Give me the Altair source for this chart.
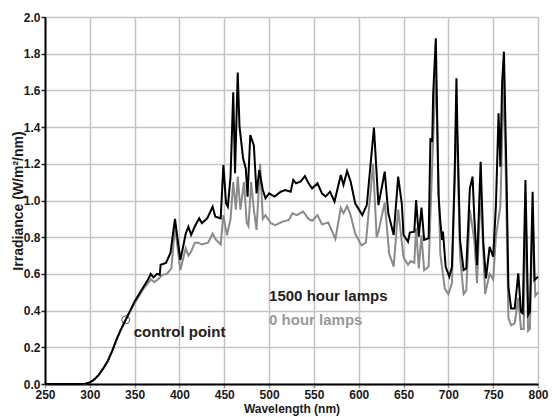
import altair as alt
import pandas as pd

# 1500 hour lamps (black)
wl_1500 = [250, 290, 295, 300, 305, 310, 315, 320, 325, 330, 335, 340, 345, 350, 355, 360, 365, 368, 371, 375, 378, 379, 385, 390, 395, 401, 404, 407, 410, 413, 417, 419, 422, 425, 431, 437, 440, 446, 449, 452, 454, 457, 460, 462, 465, 467, 471, 474, 476, 479, 483, 486, 489, 493, 496, 500, 506, 513, 518, 524, 527, 530, 535, 540, 544, 548, 554, 559, 563, 568, 573, 580, 583, 587, 591, 596, 604, 609, 617, 622, 629, 633, 639, 644, 648, 650, 655, 657, 662, 664, 667, 670, 673, 678, 680, 682, 683, 686, 689, 691, 693, 694, 697, 701, 704, 707, 709, 710, 713, 717, 720, 724, 727, 729, 732, 736, 739, 742, 746, 750, 753, 756, 758, 760, 762, 765, 767, 770, 774, 778, 781, 783, 786, 789, 791, 794, 796, 800]
irr_1500 = [0, 0, 0.002, 0.008, 0.025, 0.05, 0.085, 0.125, 0.18, 0.245, 0.3, 0.35, 0.4, 0.45, 0.49, 0.53, 0.57, 0.6, 0.58, 0.6, 0.595, 0.65, 0.66, 0.715, 0.9, 0.676, 0.745, 0.82, 0.857, 0.812, 0.857, 0.876, 0.903, 0.876, 0.903, 0.966, 0.912, 0.903, 1.193, 0.985, 0.966, 1.13, 1.59, 1.148, 1.697, 1.402, 1.23, 1.175, 1.021, 1.357, 1.3, 1.039, 1.166, 1.057, 1.012, 1.039, 1.021, 1.048, 1.057, 1.048, 1.112, 1.094, 1.103, 1.133, 1.094, 1.066, 1.094, 1.039, 1.021, 1.048, 0.994, 1.139, 1.085, 1.161, 1.103, 0.985, 0.921, 0.975, 1.397, 0.975, 1.157, 0.93, 0.812, 1.13, 0.985, 0.812, 0.776, 0.825, 0.83, 1.003, 0.803, 0.961, 0.785, 0.794, 1.339, 1.32, 1.575, 1.884, 1.03, 0.885, 0.785, 0.83, 0.639, 0.585, 0.639, 1.13, 1.666, 1.402, 0.785, 0.621, 0.63, 1.066, 1.13, 0.903, 0.648, 1.211, 0.767, 0.576, 0.748, 0.694, 0.966, 1.475, 1.184, 1.647, 1.811, 1.094, 0.53, 0.412, 0.412, 0.603, 0.394, 0.385, 1.112, 0.376, 0.394, 1.048, 0.567, 0.585]

# 0 hour lamps (gray)
wl_0 = [250, 290, 295, 300, 305, 310, 315, 320, 325, 330, 335, 340, 345, 350, 355, 360, 365, 368, 372, 376, 381, 386, 391, 395, 401, 404, 407, 410, 413, 417, 421, 425, 432, 437, 440, 446, 449, 453, 457, 460, 463, 465, 468, 472, 475, 477, 480, 483, 486, 490, 493, 496, 502, 507, 515, 522, 526, 531, 538, 544, 548, 554, 559, 566, 574, 580, 583, 587, 591, 596, 603, 608, 616, 620, 622, 629, 634, 639, 644, 650, 655, 658, 662, 664, 667, 670, 673, 678, 682, 686, 691, 696, 700, 704, 709, 713, 717, 720, 724, 729, 732, 736, 741, 746, 750, 753, 758, 762, 767, 770, 774, 778, 781, 784, 786, 789, 791, 794, 797, 800]
irr_0 = [0, 0, 0.002, 0.008, 0.025, 0.05, 0.085, 0.125, 0.18, 0.245, 0.3, 0.35, 0.395, 0.44, 0.48, 0.52, 0.55, 0.57, 0.556, 0.57, 0.595, 0.6, 0.63, 0.86, 0.62, 0.68, 0.74, 0.7, 0.72, 0.77, 0.77, 0.76, 0.77, 0.82, 0.79, 0.76, 0.92, 0.81, 0.9, 1.1, 0.95, 1.13, 0.95, 1.1, 0.88, 0.86, 1.1, 0.95, 0.84, 1.2, 0.9, 0.92, 0.876, 0.866, 0.885, 0.894, 0.93, 0.92, 0.94, 0.9, 0.89, 0.92, 0.87, 0.88, 0.79, 0.96, 0.93, 0.97, 0.92, 0.82, 0.755, 0.77, 1.2, 0.8, 0.83, 0.99, 0.71, 0.64, 0.95, 0.69, 0.65, 0.67, 0.66, 0.85, 0.63, 0.81, 0.62, 0.64, 1.2, 1.7, 0.71, 0.52, 0.49, 0.55, 1.5, 0.7, 0.49, 0.51, 0.95, 0.78, 0.55, 1.06, 0.49, 0.6, 0.57, 0.8, 0.97, 1.7, 0.36, 0.32, 0.33, 0.47, 0.3, 0.3, 1.0, 0.29, 0.3, 0.95, 0.48, 0.5]

x_ticks = [250, 300, 350, 400, 450, 500, 550, 600, 650, 700, 750, 800]
y_ticks = [0.0, 0.2, 0.4, 0.6, 0.8, 1.0, 1.2, 1.4, 1.6, 1.8, 2.0]

control_wl = [340]
control_irr = [0.35]

labels_text = ["1500 hour lamps", "0 hour lamps", "control point"]
labels_wl = [500, 500, 349]
labels_irr = [0.48, 0.349, 0.285]

FONT = "Liberation Sans"
W, H = 493, 367

df_black = pd.DataFrame({"wl": wl_1500, "irr": irr_1500})
df_gray = pd.DataFrame({"wl": wl_0, "irr": irr_0})
df_cp = pd.DataFrame({"wl": control_wl, "irr": control_irr})
df_lab = pd.DataFrame({"wl": labels_wl, "irr": labels_irr, "text": labels_text})

xscale = alt.Scale(domain=[250, 800], nice=False, zero=False)
yscale = alt.Scale(domain=[0, 2.0], nice=False, zero=False)

x_axis = alt.Axis(
    values=x_ticks, title="Wavelength (nm)", format="d", labelOverlap=False, labelFlush=False,
    labelFont=FONT, labelFontWeight="bold", labelFontSize=12, labelColor="#1a1a1a",
    labelPadding=1, tickSize=4, tickColor="#999", tickWidth=1.5,
    domainColor="#000", domainWidth=2,
    gridColor="#c4c4c4", gridWidth=1.5,
    titleFont=FONT, titleFontWeight="bold", titleFontSize=12, titleColor="#1a1a1a",
    titleY=24, titleBaseline="middle",
)
y_axis = alt.Axis(
    values=y_ticks, tickCount=11, title="Irradiance (W/m²/nm)", format=".1f",
    labelOverlap=False, labelFlush=False,
    labelFont=FONT, labelFontWeight="bold", labelFontSize=12, labelColor="#1a1a1a",
    labelPadding=1, tickSize=4, tickColor="#222", tickWidth=1.5,
    domainColor="#000", domainWidth=2,
    gridColor="#c4c4c4", gridWidth=1.5,
    titleFont=FONT, titleFontWeight="bold", titleFontSize=14, titleColor="#1a1a1a",
    titleX=-27, titleY=H / 2, titleAngle=-90, titleBaseline="middle", titleAlign="center",
)

X = alt.X("wl:Q", scale=xscale, axis=x_axis)
Y = alt.Y("irr:Q", scale=yscale, axis=y_axis)

gray = alt.Chart(df_gray).mark_line(color="#8a8a8a", strokeWidth=2).encode(x=X, y=Y)
black = alt.Chart(df_black).mark_line(color="#000000", strokeWidth=2).encode(x=X, y=Y)
cp = alt.Chart(df_cp).mark_point(shape="circle", filled=False, color="#000", size=64, strokeWidth=1).encode(x=X, y=Y)
lab = alt.Chart(df_lab).mark_text(font=FONT, fontWeight="bold", align="left", baseline="middle").encode(
    x=X, y=Y,
    text="text:N",
    color=alt.Color("text:N", scale=alt.Scale(domain=labels_text, range=["#222222", "#999999", "#222222"]), legend=None),
    size=alt.Size("text:N", scale=alt.Scale(domain=labels_text, range=[15, 15, 12]), legend=None),
)

chart = (gray + black + cp + lab).properties(
    width=W, height=H,
    autosize=alt.AutoSizeParams(type="none"),
    padding={"left": 45, "top": 17, "right": 17, "bottom": 33},
).configure_view(stroke=None).configure(background="white")

chart.save("out.html", embed_options={"renderer": "svg", "actions": False})
